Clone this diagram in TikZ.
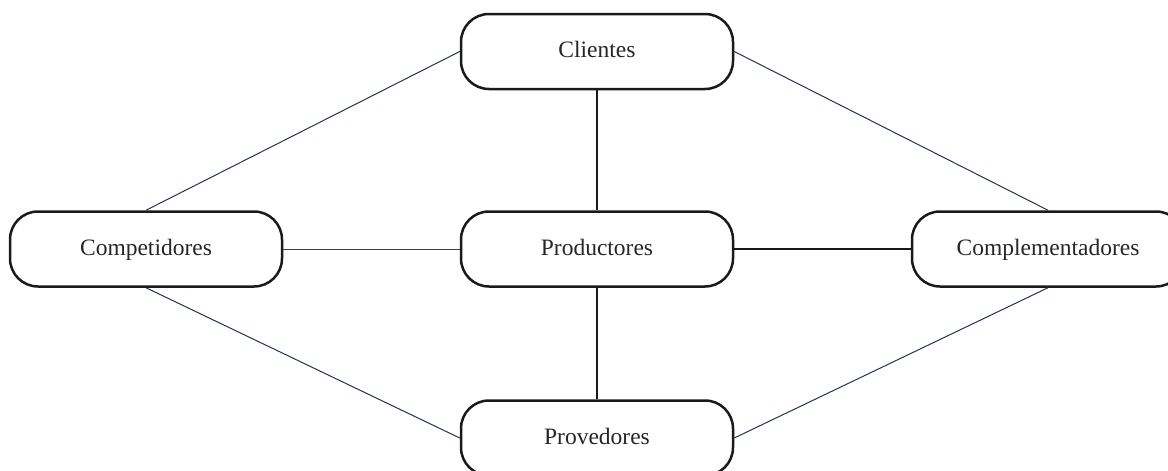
\documentclass[tikz,border=0pt]{standalone}
\usepackage{fontspec}
\setmainfont{Liberation Serif}
\definecolor{diagcol}{HTML}{22344F}
\definecolor{boxcol}{HTML}{1A1A1A}
\begin{document}
\begin{tikzpicture}[x=1pt,y=-1pt,
  box/.style={draw=boxcol, line width=2.5pt, rounded corners=28pt,
    minimum width=272pt, minimum height=75pt, inner sep=0pt,
    text height=16pt, text depth=4pt,
    font=\fontsize{23.5}{27}\selectfont, text=black!85},
  diag/.style={draw=diagcol, line width=1pt},
  vert/.style={draw=boxcol, line width=1.1pt},
  thinh/.style={draw=black!75, line width=1pt},
  thickh/.style={draw=boxcol, line width=2pt}]
\clip (0,0) rectangle (1168,471);
\useasboundingbox (0,0) rectangle (1168,471);
\node[box] (cli) at (597,51.5) {Clientes};
\node[box] (pro) at (597,249) {Productores};
\node[box] (com) at (146,249) {Competidores};
\node[box] (cpl) at (1048,249) {Complementadores};
\node[box] (prv) at (597,438) {Provedores};
\draw[diag] (cli.west) -- (com.north);
\draw[diag] (cli.east) -- (cpl.north);
\draw[diag] (com.south) -- (prv.west);
\draw[diag] (cpl.south) -- (prv.east);
\draw[vert] (cli.south) -- (pro.north);
\draw[vert] (pro.south) -- (prv.north);
\draw[thinh] (com.east) -- (pro.west);
\draw[thickh] (pro.east) -- (cpl.west);
\end{tikzpicture}
\end{document}
